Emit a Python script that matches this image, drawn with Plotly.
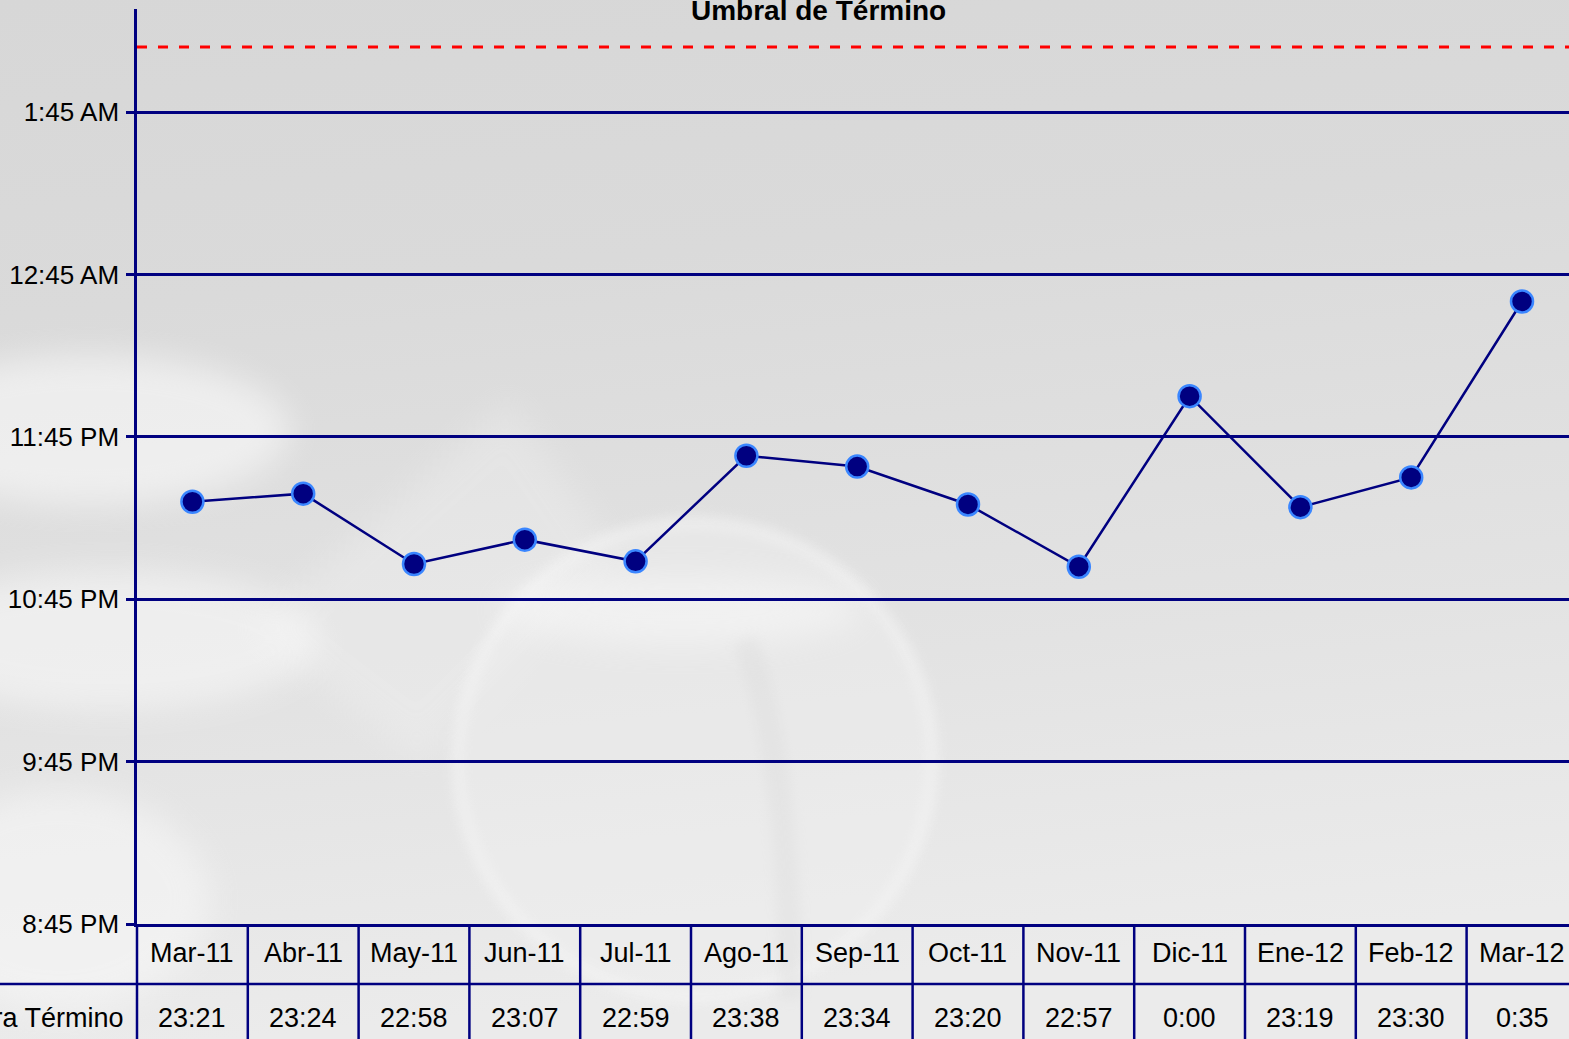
import base64
import plotly.graph_objects as go

# ---------------- data ----------------
months = ["Mar-11", "Abr-11", "May-11", "Jun-11", "Jul-11", "Ago-11", "Sep-11",
          "Oct-11", "Nov-11", "Dic-11", "Ene-12", "Feb-12", "Mar-12"]
hora_termino = ["23:21", "23:24", "22:58", "23:07", "22:59", "23:38", "23:34",
                "23:20", "22:57", "0:00", "23:19", "23:30", "0:35"]
umbral = "2:09"
y_tick_vals = ["20:45", "21:45", "22:45", "23:45", "0:45", "1:45"]
y_tick_text = ["8:45 PM", "9:45 PM", "10:45 PM", "11:45 PM", "12:45 AM", "1:45 AM"]
row_label = "Hora Término"
series_title = "Umbral de Término"


def to_hours(s):
    h, m = s.split(":")
    v = int(h) + int(m) / 60.0
    if v < 12:
        v += 24
    return v


yvals = [to_hours(s) for s in hora_termino]
ytv = [to_hours(s) for s in y_tick_vals]
thr = to_hours(umbral)

# ---------------- geometry ----------------
W, H = 1569, 1039
ML, MT, MB, MR = 137, 9, 115, 0
PW, PH = W - ML - MR, H - MT - MB
xr = [-0.5, -0.5 + PW / 110.8]
yr = [ytv[0], ytv[-1] + (112 - 9) / 162.4]

NAVY = "#000080"
FONT = "Liberation Sans, Arial, sans-serif"


def px_x(px):
    return (px - ML) / PW


def px_y(py):
    return (H - MB - py) / PH


def cat_px(v):
    return (v - xr[0]) / (xr[1] - xr[0])


# ---------------- background (gradient + faint glass shapes) ----------------
svg = f'''<svg xmlns="http://www.w3.org/2000/svg" width="{W}" height="{H}" viewBox="0 0 {W} {H}">
<defs>
<linearGradient id="g" x1="0" y1="0" x2="0.15" y2="1">
<stop offset="0" stop-color="#d7d7d7"/>
<stop offset="0.3" stop-color="#dadada"/>
<stop offset="0.7" stop-color="#e3e3e3"/>
<stop offset="1" stop-color="#ebebeb"/>
</linearGradient>
<filter id="b" x="-50%" y="-50%" width="200%" height="200%"><feGaussianBlur stdDeviation="16"/></filter>
<filter id="b2" x="-50%" y="-50%" width="200%" height="200%"><feGaussianBlur stdDeviation="6"/></filter>
</defs>
<rect x="0" y="0" width="{W}" height="{H}" fill="url(#g)"/>
<ellipse cx="90" cy="430" rx="200" ry="75" fill="#ffffff" opacity="0.5" filter="url(#b)"/>
<ellipse cx="110" cy="640" rx="210" ry="70" fill="#ffffff" opacity="0.45" filter="url(#b)"/>
<ellipse cx="60" cy="900" rx="150" ry="110" fill="#ffffff" opacity="0.4" filter="url(#b)"/>
<polygon points="250,630 510,400 620,560 420,760" fill="#ffffff" opacity="0.2" filter="url(#b)"/>
<circle cx="695" cy="760" r="245" fill="#f0f0f0" opacity="0.45" filter="url(#b2)"/>
<circle cx="695" cy="760" r="236" fill="none" stroke="#ffffff" stroke-width="8" opacity="0.3" filter="url(#b2)"/>
<ellipse cx="680" cy="610" rx="180" ry="35" fill="#ffffff" opacity="0.4" filter="url(#b)"/>
<path d="M 745 640 Q 790 760 790 1000" stroke="#d8d8d8" stroke-width="24" fill="none" opacity="0.3" filter="url(#b2)"/>
</svg>'''
src = "data:image/svg+xml;base64," + base64.b64encode(svg.encode()).decode()

fig = go.Figure()

fig.add_trace(go.Scatter(
    x=list(range(len(months))), y=yvals, mode="lines+markers",
    line=dict(color=NAVY, width=2.5),
    marker=dict(size=22, color=NAVY, line=dict(color="#3a86ff", width=2.5)),
    showlegend=False, hoverinfo="skip", cliponaxis=False,
))

shapes = []
# threshold line
shapes.append(dict(type="line", xref="paper", yref="y", x0=0, x1=1, y0=thr, y1=thr,
                   line=dict(color="#ff0000", width=3, dash="10px,11px"), layer="above"))
y_bot = px_y(H + 5)
# y-axis extension down through table
shapes.append(dict(type="line", xref="paper", yref="paper", x0=0, x1=0, y0=0, y1=y_bot,
                   line=dict(color=NAVY, width=2.5)))
# table horizontal line between rows
y_mid = px_y(984)
shapes.append(dict(type="line", xref="paper", yref="paper", x0=px_x(0), x1=1, y0=y_mid, y1=y_mid,
                   line=dict(color=NAVY, width=2.5)))
# vertical column separators
for i in range(len(months) - 1):
    xp = cat_px(i + 0.5)
    shapes.append(dict(type="line", xref="paper", yref="paper", x0=xp, x1=xp, y0=0, y1=y_bot,
                       line=dict(color=NAVY, width=2.5)))

annotations = []
for i, (m, v) in enumerate(zip(months, hora_termino)):
    xp = cat_px(i)
    annotations.append(dict(x=xp, y=px_y(953), xref="paper", yref="paper", text=m,
                            showarrow=False, xanchor="center", yanchor="middle",
                            font=dict(family=FONT, size=27, color="black")))
    annotations.append(dict(x=xp, y=px_y(1018), xref="paper", yref="paper", text=v,
                            showarrow=False, xanchor="center", yanchor="middle",
                            font=dict(family=FONT, size=27, color="black")))
annotations.append(dict(x=px_x(126), y=px_y(1018), xref="paper", yref="paper", text=row_label,
                        showarrow=False, xanchor="right", yanchor="middle",
                        font=dict(family=FONT, size=27, color="black")))
annotations.append(dict(x=px_x(818), y=px_y(10), xref="paper", yref="paper",
                        text="<b>" + series_title + "</b>",
                        showarrow=False, xanchor="center", yanchor="middle",
                        font=dict(family=FONT, size=28, color="black")))

fig.update_layout(
    width=W, height=H,
    margin=dict(l=ML, r=MR, t=MT, b=MB, pad=0),
    paper_bgcolor="#dcdcdc", plot_bgcolor="rgba(0,0,0,0)",
    showlegend=False,
    images=[dict(source=src, xref="paper", yref="paper", x=px_x(0), y=px_y(0),
                 sizex=W / PW, sizey=H / PH, xanchor="left", yanchor="top",
                 sizing="stretch", layer="below")],
    shapes=shapes, annotations=annotations,
    xaxis=dict(range=xr, showgrid=False, zeroline=False, showticklabels=False,
               ticks="", showline=True, linecolor=NAVY, linewidth=2.5, mirror=False),
    yaxis=dict(range=yr, tickvals=ytv, ticktext=y_tick_text, showgrid=True,
               gridcolor=NAVY, gridwidth=2.5, zeroline=False,
               showline=True, linecolor=NAVY, linewidth=2.5,
               ticks="outside", ticklen=8, tickcolor=NAVY, tickwidth=2.5,
               ticklabelstandoff=2,
               tickfont=dict(family=FONT, size=26, color="black")),
)

fig.write_html("out.html", config={"displayModeBar": False},
               post_script="document.body.style.margin='0';document.body.style.overflow='hidden';")
